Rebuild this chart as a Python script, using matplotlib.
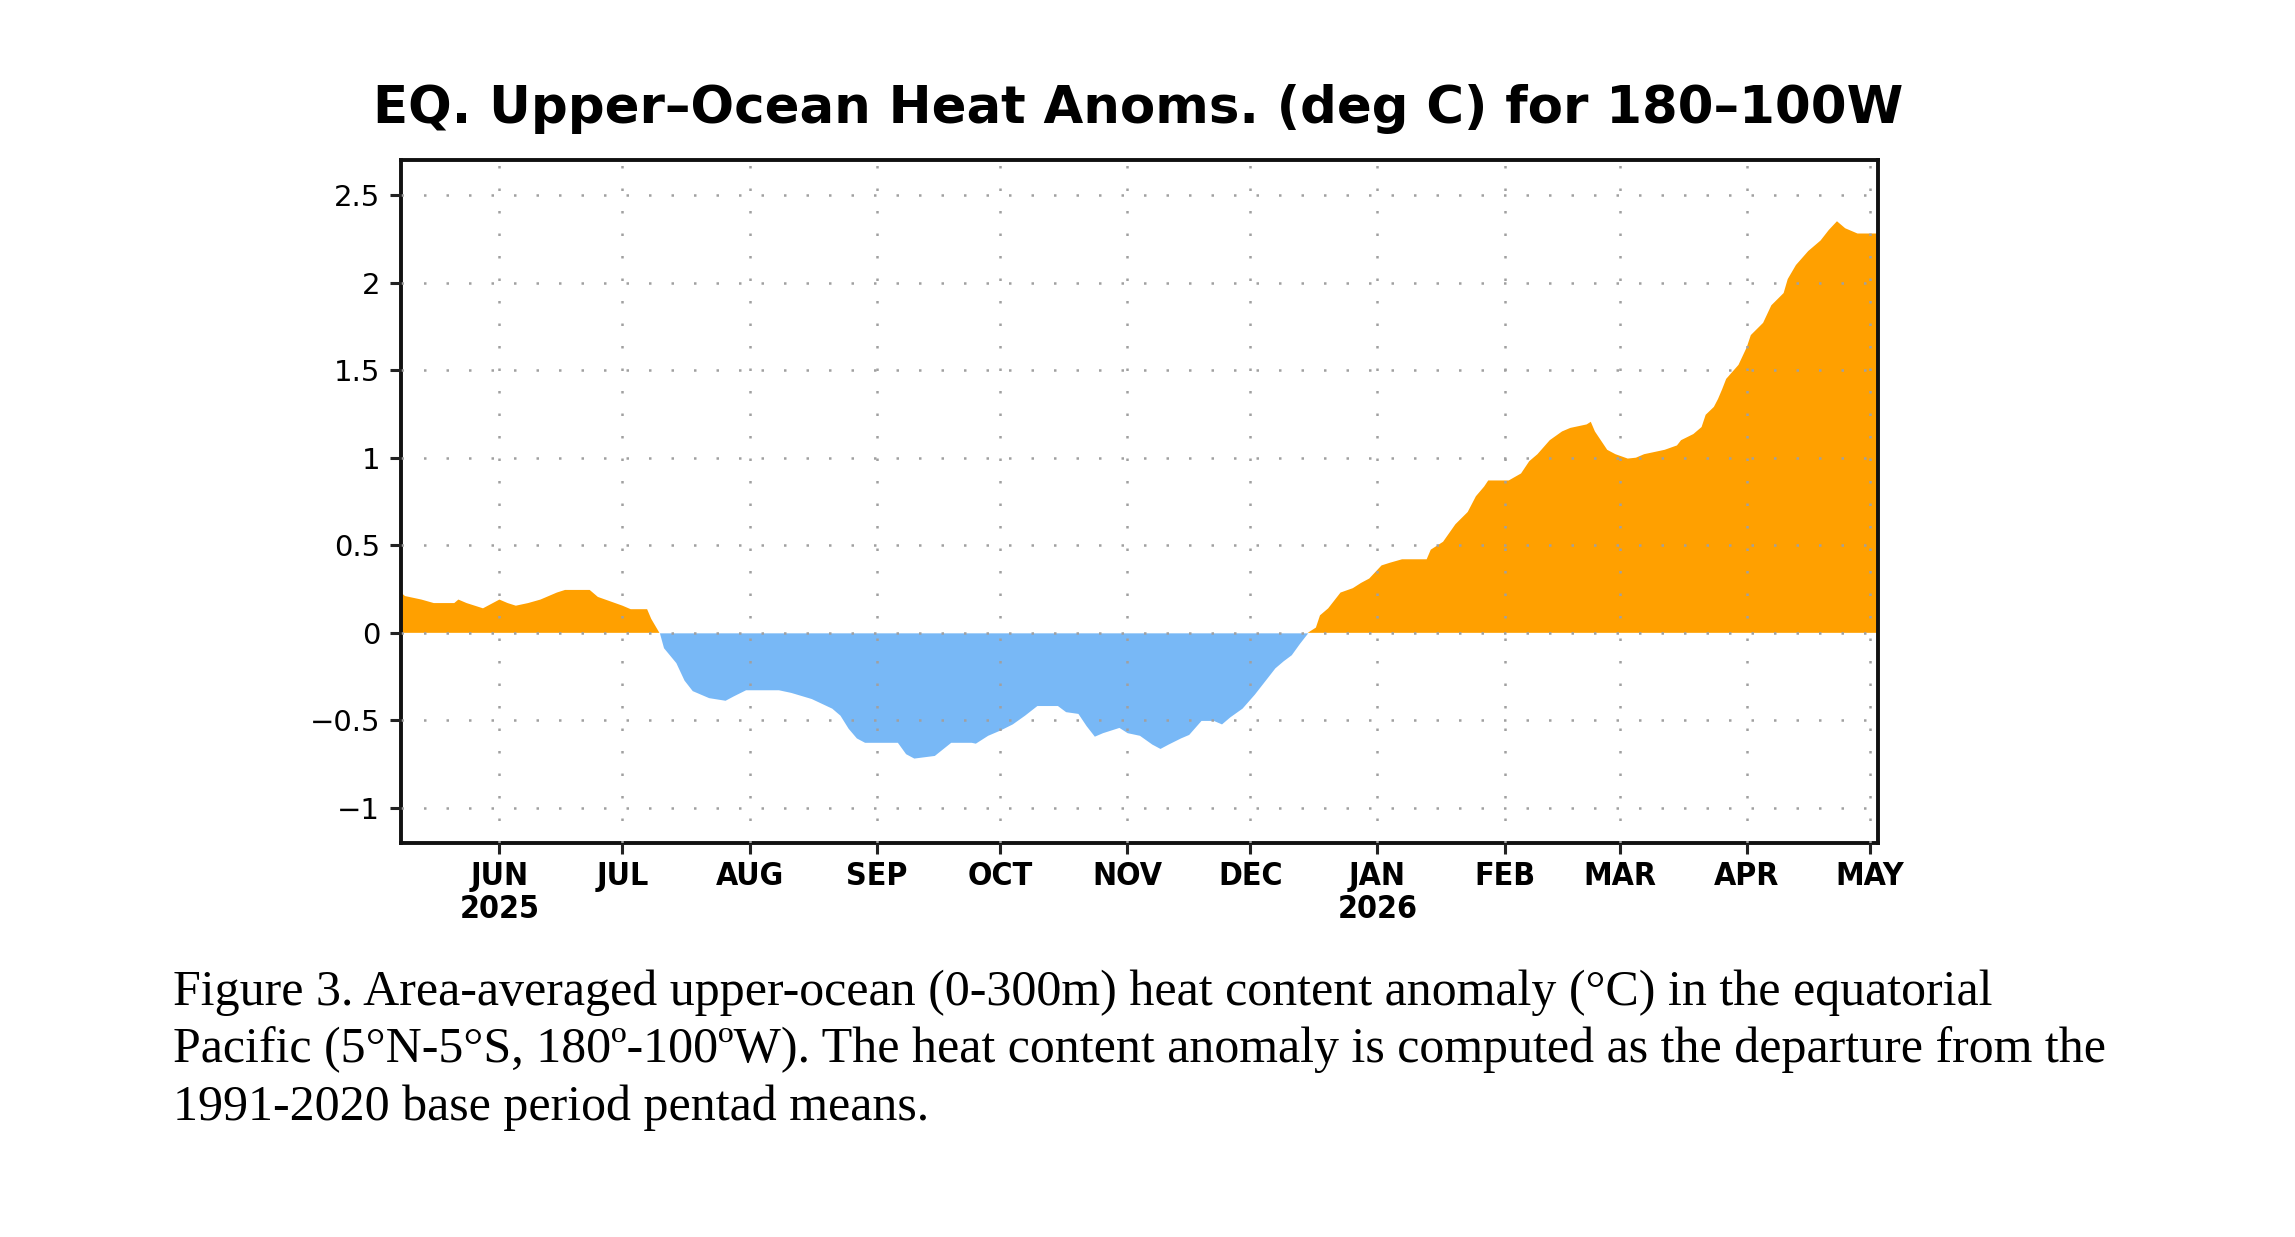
"""Equatorial upper-ocean heat content anomaly, 180-100W (Figure 3)."""
import matplotlib
matplotlib.use("Agg")
import matplotlib.pyplot as plt
import numpy as np
import pandas as pd

# values (deg C), irregular spacing following the outline
dates = [
    "2025-05-08", "2025-05-09", "2025-05-13", "2025-05-16", "2025-05-21", "2025-05-22",
    "2025-05-24", "2025-05-28", "2025-06-01", "2025-06-03", "2025-06-05", "2025-06-08",
    "2025-06-11", "2025-06-15", "2025-06-17", "2025-06-23", "2025-06-25", "2025-06-28",
    "2025-07-01", "2025-07-03", "2025-07-07", "2025-07-08", "2025-07-10", "2025-07-11",
    "2025-07-14", "2025-07-16", "2025-07-18", "2025-07-22", "2025-07-26", "2025-07-28",
    "2025-07-31", "2025-08-08", "2025-08-11", "2025-08-16", "2025-08-21", "2025-08-23",
    "2025-08-25", "2025-08-27", "2025-08-29", "2025-09-06", "2025-09-08", "2025-09-10",
    "2025-09-15", "2025-09-19", "2025-09-24", "2025-09-25", "2025-09-28", "2025-10-01",
    "2025-10-04", "2025-10-07", "2025-10-10", "2025-10-15", "2025-10-17", "2025-10-20",
    "2025-10-22", "2025-10-24", "2025-10-26", "2025-10-30", "2025-11-01", "2025-11-04",
    "2025-11-07", "2025-11-09", "2025-11-11", "2025-11-14", "2025-11-16", "2025-11-19",
    "2025-11-22", "2025-11-24", "2025-11-26", "2025-11-29", "2025-12-02", "2025-12-05",
    "2025-12-07", "2025-12-09", "2025-12-11", "2025-12-13", "2025-12-15", "2025-12-17",
    "2025-12-18", "2025-12-20", "2025-12-23", "2025-12-26", "2025-12-28", "2025-12-30",
    "2026-01-02", "2026-01-04", "2026-01-07", "2026-01-13", "2026-01-14", "2026-01-17",
    "2026-01-20", "2026-01-23", "2026-01-25", "2026-01-27", "2026-01-28", "2026-02-02",
    "2026-02-05", "2026-02-07", "2026-02-09", "2026-02-12", "2026-02-15", "2026-02-17",
    "2026-02-21", "2026-02-22", "2026-02-23", "2026-02-26", "2026-02-28", "2026-03-03",
    "2026-03-05", "2026-03-07", "2026-03-12", "2026-03-15", "2026-03-16", "2026-03-19",
    "2026-03-21", "2026-03-22", "2026-03-24", "2026-03-25", "2026-03-26", "2026-03-27",
    "2026-03-30", "2026-04-01", "2026-04-02", "2026-04-05", "2026-04-07", "2026-04-10",
    "2026-04-11", "2026-04-13", "2026-04-16", "2026-04-19", "2026-04-21", "2026-04-23",
    "2026-04-25", "2026-04-28", "2026-05-03",
]
anom = [
    0.23, 0.21, 0.19, 0.17, 0.17, 0.19,
    0.17, 0.14, 0.19, 0.17, 0.155, 0.17,
    0.19, 0.23, 0.245, 0.245, 0.205, 0.18,
    0.155, 0.135, 0.135, 0.08, 0.0, -0.085,
    -0.17, -0.27, -0.33, -0.37, -0.385, -0.36,
    -0.325, -0.325, -0.34, -0.375, -0.43, -0.47,
    -0.545, -0.60, -0.625, -0.625, -0.69, -0.715,
    -0.70, -0.625, -0.625, -0.63, -0.585, -0.555,
    -0.52, -0.47, -0.415, -0.415, -0.45, -0.46,
    -0.53, -0.59, -0.57, -0.54, -0.57, -0.585,
    -0.635, -0.66, -0.635, -0.60, -0.58, -0.50,
    -0.50, -0.52, -0.48, -0.43, -0.35, -0.26,
    -0.20, -0.16, -0.125, -0.06, 0.0, 0.03,
    0.10, 0.14, 0.23, 0.255, 0.285, 0.31,
    0.385, 0.40, 0.42, 0.42, 0.475, 0.52,
    0.62, 0.69, 0.78, 0.835, 0.87, 0.87,
    0.91, 0.98, 1.02, 1.10, 1.15, 1.17,
    1.19, 1.205, 1.15, 1.045, 1.02, 0.995,
    1.0, 1.02, 1.045, 1.07, 1.10, 1.135,
    1.175, 1.245, 1.29, 1.335, 1.39, 1.45,
    1.53, 1.63, 1.70, 1.77, 1.87, 1.94,
    2.02, 2.10, 2.18, 2.24, 2.30, 2.35,
    2.31, 2.28, 2.28,
]

month_ticks = pd.date_range("2025-06-01", "2026-05-01", freq="MS")
yticks = [-1, -0.5, 0, 0.5, 1, 1.5, 2, 2.5]
ytick_labels = ["\u22121", "\u22120.5", "0", "0.5", "1", "1.5", "2", "2.5"]

TITLE = "EQ. Upper\u2013Ocean Heat Anoms. (deg C) for 180\u2013100W"
caption_lines = [
    "Figure 3. Area-averaged upper-ocean (0-300m) heat content anomaly (\u00b0C) in the equatorial",
    "Pacific (5\u00b0N-5\u00b0S, 180\u00ba-100\u00baW). The heat content anomaly is computed as the departure from the",
    "1991-2020 base period pentad means.",
]

ORANGE = "#ffa000"
BLUE = "#78b8f6"


def month_label(d):
    lab = d.strftime("%b").upper()
    if (d.month == 6 and d.year == 2025) or d.month == 1:
        lab += "\n" + str(d.year)
    return lab


def main():
    x = pd.to_datetime(dates)
    v = np.array(anom)

    fig = plt.figure(figsize=(22.95, 12.37), dpi=100)
    ax = fig.add_axes([0.1747, 0.3185, 0.6436, 0.5522])

    ax.fill_between(x, v, 0, where=v >= 0, interpolate=True, color=ORANGE, lw=0)
    ax.fill_between(x, v, 0, where=v <= 0, interpolate=True, color=BLUE, lw=0)

    ax.set_xlim(pd.Timestamp("2025-05-08"), pd.Timestamp("2026-05-03"))
    ax.set_ylim(-1.2, 2.7)

    ax.set_xticks(month_ticks)
    ax.set_xticklabels([month_label(d) for d in month_ticks],
                       family="DejaVu Sans", fontstretch="condensed",
                       fontweight="bold", fontsize=23, linespacing=1.1)
    ax.set_yticks(yticks)
    ax.set_yticklabels(ytick_labels, family="DejaVu Sans", fontsize=21)
    ax.tick_params(axis="both", direction="out", length=8, width=2.2, color="#222222")
    ax.tick_params(axis="x", pad=5)
    ax.tick_params(axis="y", pad=7)

    ax.set_axisbelow(False)
    ax.grid(True, linestyle=(0, (1, 8)), color="#a0a0a0", linewidth=1.8)

    for s in ax.spines.values():
        s.set_linewidth(2.8)
        s.set_color("#111111")

    fig.text(0.496, 0.912, TITLE, ha="center", va="center",
             family="DejaVu Sans", fontweight="bold", fontsize=37)

    for i, line in enumerate(caption_lines):
        fig.text(0.0754, 0.1876 - i * 0.0465, line, ha="left", va="baseline",
                 family="Liberation Serif", fontsize=36)

    fig.savefig("out.png", dpi=100)
    plt.close(fig)


if __name__ == "__main__":
    main()
